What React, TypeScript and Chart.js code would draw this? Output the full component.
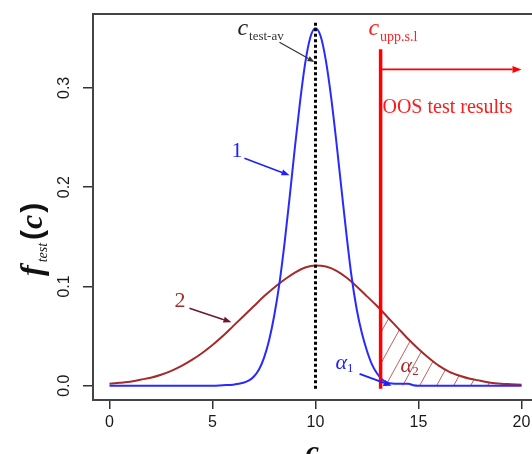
import React, { useEffect, useRef } from 'react';
import { Chart, registerables } from 'chart.js';

Chart.register(...registerables);

// ---- data ----
const xTicks = [0, 5, 10, 15, 20];
const yTicks = [0, 0.1, 0.2, 0.3];

const curve1X = [0, 1, 2, 3, 4, 5, 5.5, 6, 6.25, 6.5, 6.75, 7, 7.25, 7.5, 7.75, 8, 8.25, 8.5, 8.75, 9, 9.25, 9.5, 9.75, 10, 10.25, 10.5, 10.75, 11, 11.25, 11.5, 11.75, 12, 12.25, 12.5, 12.75, 13, 13.25, 13.5, 14, 14.5, 14.75, 15, 16, 17, 18, 19, 20];
const curve1Y = [0, 0, 0, 0, 0, 0, 0.0005, 0.001, 0.002, 0.003, 0.005, 0.009, 0.016, 0.028, 0.046, 0.071, 0.103, 0.144, 0.191, 0.240, 0.286, 0.325, 0.351, 0.360, 0.352, 0.328, 0.292, 0.248, 0.200, 0.153, 0.110, 0.077, 0.053, 0.035, 0.021, 0.012, 0.006, 0.003, 0.002, 0.002, 0.0005, 0, 0, 0, 0, 0, 0];

const curve2X = [0, 0.5, 1, 1.5, 2, 2.5, 3, 3.5, 4, 4.5, 5, 5.5, 6, 6.5, 7, 7.5, 8, 8.5, 9, 9.5, 10, 10.5, 11, 11.5, 12, 12.5, 13, 13.5, 14, 14.5, 15, 15.5, 16, 16.5, 17, 17.5, 18, 18.5, 19, 19.5, 20];
const curve2Y = [0.002, 0.003, 0.004, 0.006, 0.008, 0.011, 0.015, 0.020, 0.026, 0.033, 0.041, 0.050, 0.060, 0.070, 0.080, 0.090, 0.099, 0.107, 0.114, 0.119, 0.121, 0.120, 0.116, 0.109, 0.100, 0.090, 0.080, 0.069, 0.058, 0.047, 0.037, 0.028, 0.020, 0.014, 0.010, 0.007, 0.005, 0.003, 0.002, 0.0015, 0.001];

const cTestAv = 10;
const cUppSl = 13.16;
const dottedSpan = [-0.003, 0.367];
const limitSpan = [-0.003, 0.339];
const oosArrowY = 0.3186;
const oosArrowEnd = 20.0;

const W = 545;
const H = 470;

function interp(xs: number[], ys: number[], x: number) {
  for (let i = 0; i < xs.length - 1; i++) {
    if (x >= xs[i] && x <= xs[i + 1]) {
      const t = (x - xs[i]) / (xs[i + 1] - xs[i]);
      return ys[i] + t * (ys[i + 1] - ys[i]);
    }
  }
  return 0;
}

function arrow(ctx: CanvasRenderingContext2D, x1: number, y1: number, x2: number, y2: number, color: string, lw: number, head = 8, half = 3) {
  const ang = Math.atan2(y2 - y1, x2 - x1);
  const hx = x2 - head * Math.cos(ang);
  const hy = y2 - head * Math.sin(ang);
  ctx.save();
  ctx.strokeStyle = color;
  ctx.fillStyle = color;
  ctx.lineWidth = lw;
  ctx.beginPath();
  ctx.moveTo(x1, y1);
  ctx.lineTo(hx, hy);
  ctx.stroke();
  ctx.beginPath();
  ctx.moveTo(x2, y2);
  ctx.lineTo(hx + half * Math.sin(ang), hy - half * Math.cos(ang));
  ctx.lineTo(hx - half * Math.sin(ang), hy + half * Math.cos(ang));
  ctx.closePath();
  ctx.fill();
  ctx.restore();
}

function sub(ctx: CanvasRenderingContext2D, x: number, y: number, main: string, mainFont: string, s: string, subFont: string, color: string, subColor: string, dy: number, gap = 1) {
  ctx.save();
  ctx.textAlign = 'left';
  ctx.textBaseline = 'alphabetic';
  ctx.fillStyle = color;
  ctx.font = mainFont;
  ctx.fillText(main, x, y);
  const w = ctx.measureText(main).width;
  ctx.font = subFont;
  ctx.fillStyle = subColor;
  ctx.fillText(s, x + w + gap, y + dy);
  ctx.restore();
}

const RED_CURVE_INDEX = 3;

const hatchPlugin = {
  id: 'hatch',
  beforeDatasetsDraw(chart: any) {
    const { ctx, chartArea: a, scales } = chart;
    const x = scales.x;
    const y = scales.y;
    const meta = chart.getDatasetMeta(RED_CURVE_INDEX);
    const xl = x.getPixelForValue(cUppSl);
    const y0 = y.getPixelForValue(0);
    const vAt = interp(curve2X, curve2Y, cUppSl);
    ctx.save();
    ctx.beginPath();
    ctx.moveTo(xl, y0);
    ctx.lineTo(xl, y.getPixelForValue(vAt));
    for (const p of meta.data) {
      if (p.x > xl) ctx.lineTo(p.x, p.y);
    }
    ctx.lineTo(x.getPixelForValue(curve2X[curve2X.length - 1]), y0);
    ctx.closePath();
    ctx.clip();
    ctx.strokeStyle = '#c06060';
    ctx.lineWidth = 1;
    ctx.beginPath();
    for (let b = xl + 5 - 17 * 6; b < a.right; b += 17) {
      ctx.moveTo(b, y0);
      ctx.lineTo(b + 0.55 * 200, y0 - 200);
    }
    ctx.stroke();
    ctx.restore();
  },
};

const annotPlugin = {
  id: 'annot',
  afterDraw(chart: any) {
    const { ctx, chartArea: a, scales } = chart;
    const x = scales.x;
    const y = scales.y;
    const px = (c: number) => x.getPixelForValue(c);
    const py = (v: number) => y.getPixelForValue(v);

    // box
    ctx.save();
    ctx.strokeStyle = '#444';
    ctx.lineWidth = 2;
    ctx.strokeRect(a.left, a.top, a.right - a.left, a.bottom - a.top);
    ctx.restore();

    // y tick labels (rotated, R style)
    ctx.save();
    ctx.fillStyle = '#1a1a1a';
    ctx.font = '16px "Liberation Sans", Arial, sans-serif';
    ctx.textAlign = 'center';
    ctx.textBaseline = 'middle';
    for (const t of y.ticks) {
      const yy = y.getPixelForValue(t.value);
      ctx.save();
      ctx.translate(a.left - 28, yy);
      ctx.rotate(-Math.PI / 2);
      ctx.fillText(Number(t.value).toFixed(1), 0, 0);
      ctx.restore();
    }
    ctx.restore();

    // x title
    ctx.save();
    ctx.fillStyle = '#111';
    ctx.font = 'italic bold 30px "Liberation Serif", serif';
    ctx.textAlign = 'center';
    ctx.textBaseline = 'alphabetic';
    ctx.fillText('c', px(cTestAv) - 3, 461);
    ctx.restore();

    // y title f_test(c)
    ctx.save();
    ctx.translate(42, 276);
    ctx.rotate(-Math.PI / 2);
    ctx.fillStyle = '#111';
    ctx.textBaseline = 'alphabetic';
    ctx.textAlign = 'left';
    ctx.font = 'italic bold 32px "Liberation Serif", serif';
    ctx.fillText('f', 0, 0);
    let cx = ctx.measureText('f').width + 3;
    ctx.font = 'italic 14px "Liberation Serif", serif';
    ctx.fillText('test', cx, 5);
    cx += ctx.measureText('test').width + 3;
    ctx.font = 'bold 30px "Liberation Sans", sans-serif';
    ctx.fillText('(', cx, 0);
    cx += ctx.measureText('(').width + 1;
    ctx.font = 'italic bold 32px "Liberation Serif", serif';
    ctx.fillText('c', cx, 0);
    cx += ctx.measureText('c').width + 2;
    ctx.font = 'bold 30px "Liberation Sans", sans-serif';
    ctx.fillText(')', cx, 0);
    ctx.restore();

    // c_test-av label and arrow
    sub(ctx, px(6.21), py(0.353), 'c', 'italic 24px "Liberation Serif", serif', 'test-av', '13px "Liberation Serif", serif', '#222', '#333', 5);
    arrow(ctx, px(8.25), py(0.346), px(9.95), py(0.326), '#333', 1.2, 7, 2.8);

    // c_upp.s.l label
    sub(ctx, px(12.57), py(0.353), 'c', 'italic 24px "Liberation Serif", serif', 'upp.s.l', '14px "Liberation Serif", serif', '#ff2020', '#ff2020', 6);

    // OOS arrow + text
    arrow(ctx, px(cUppSl), py(oosArrowY), px(oosArrowEnd), py(oosArrowY), '#ff0000', 1.6, 9, 3.5);
    ctx.save();
    ctx.fillStyle = '#ff1a1a';
    ctx.font = '20px "Liberation Serif", serif';
    ctx.textAlign = 'left';
    ctx.textBaseline = 'alphabetic';
    ctx.fillText('OOS test results', px(13.25), py(0.275));
    ctx.restore();

    // label 1
    ctx.save();
    ctx.fillStyle = '#2020ff';
    ctx.font = '22px "Liberation Serif", serif';
    ctx.textBaseline = 'alphabetic';
    ctx.fillText('1', px(5.92), py(0.230));
    ctx.restore();
    arrow(ctx, px(6.55), py(0.229), px(8.74), py(0.212), '#2020ff', 1.6, 8, 3);

    // label 2
    ctx.save();
    ctx.fillStyle = '#a52a2a';
    ctx.font = '22px "Liberation Serif", serif';
    ctx.textBaseline = 'alphabetic';
    ctx.fillText('2', px(3.16), py(0.079));
    ctx.restore();
    arrow(ctx, px(3.88), py(0.078), px(5.92), py(0.064), '#6b1a2e', 1.6, 8, 3);

    // alpha 1
    sub(ctx, px(10.97), py(0.017), 'α', 'italic 22px "Liberation Serif", serif', '1', '13px "Liberation Serif", serif', '#2020ff', '#2020ff', 3, 0);
    arrow(ctx, px(12.14), py(0.012), px(13.69), py(0.0), '#2020ff', 1.8, 8, 3.2);

    // alpha 2
    sub(ctx, px(14.13), py(0.014), 'α', 'italic 22px "Liberation Serif", serif', '2', '13px "Liberation Serif", serif', '#a52a2a', '#a52a2a', 3, 0);
  },
};

export default function App() {
  const ref = useRef<HTMLCanvasElement | null>(null);
  useEffect(() => {
    if (!ref.current) return;
    const chart = new Chart(ref.current, {
      type: 'line',
      data: {
        datasets: [
          {
            label: 'c_test-av',
            data: dottedSpan.map((v) => ({ x: cTestAv, y: v })),
            borderColor: '#000',
            borderWidth: 3,
            borderDash: [3, 2.5],
            borderCapStyle: 'butt',
            pointRadius: 0,
            order: 0,
          },
          {
            label: 'c_upp.s.l',
            data: limitSpan.map((v) => ({ x: cUppSl, y: v })),
            borderColor: '#ff0000',
            borderWidth: 3.5,
            pointRadius: 0,
            order: 1,
          },
          {
            label: '1',
            data: curve1X.map((c, i) => ({ x: c, y: curve1Y[i] })),
            borderColor: '#2a2aff',
            borderWidth: 2,
            pointRadius: 0,
            cubicInterpolationMode: 'monotone',
            order: 2,
          },
          {
            label: '2',
            data: curve2X.map((c, i) => ({ x: c, y: curve2Y[i] })),
            borderColor: '#a52a2a',
            borderWidth: 2,
            pointRadius: 0,
            cubicInterpolationMode: 'monotone',
            order: 3,
          },
        ],
      },
      options: {
        responsive: false,
        animation: false,
        devicePixelRatio: 1,
        layout: { padding: { top: 14, right: 7, left: 0, bottom: 0 } },
        plugins: { legend: { display: false }, tooltip: { enabled: false } },
        scales: {
          x: {
            type: 'linear',
            min: -0.8,
            max: 20.8,
            afterBuildTicks: (s: any) => {
              s.ticks = xTicks.map((v) => ({ value: v }));
            },
            afterFit: (s: any) => {
              s.height = H - 400;
            },
            border: { display: false },
            grid: { drawOnChartArea: false, drawTicks: true, tickLength: 9, color: '#333', lineWidth: 1.5 },
            ticks: {
              font: { family: '"Liberation Sans", Arial, sans-serif', size: 16 },
              color: '#1a1a1a',
              padding: 4,
              maxRotation: 0,
              autoSkip: false,
            },
          },
          y: {
            type: 'linear',
            min: -0.0144,
            max: 0.3744,
            afterBuildTicks: (s: any) => {
              s.ticks = yTicks.map((v) => ({ value: v }));
            },
            afterFit: (s: any) => {
              s.width = 93;
            },
            border: { display: false },
            grid: { drawOnChartArea: false, drawTicks: true, tickLength: 10, color: '#333', lineWidth: 1.5 },
            ticks: {
              color: 'rgba(0,0,0,0)',
              font: { family: '"Liberation Sans", Arial, sans-serif', size: 15 },
              callback: (v: any) => Number(v).toFixed(1),
            },
          },
        },
      },
      plugins: [hatchPlugin, annotPlugin],
    } as any);
    return () => chart.destroy();
  }, []);
  return (
    <div style={{ position: 'fixed', left: 0, top: 0, width: 532, height: 454, overflow: 'hidden', background: '#fff' }}>
      <canvas ref={ref} width={W} height={H} style={{ display: 'block', width: W, height: H }} />
    </div>
  );
}
